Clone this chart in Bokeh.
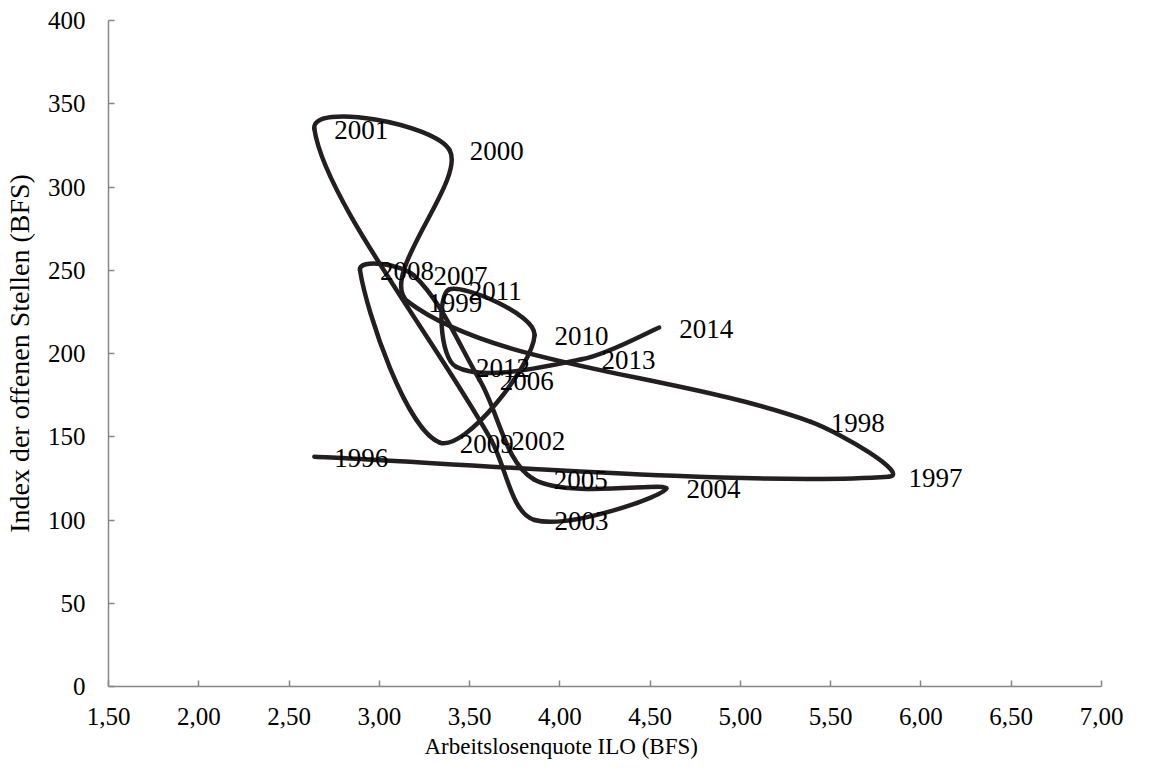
import numpy as np
from bokeh.plotting import figure
from bokeh.models import Range1d, FixedTicker, ColumnDataSource, Title
from bokeh.embed import file_html
from bokeh.resources import INLINE
from bokeh.core.properties import value

# ---- data ----
years = ["1996", "1997", "1998", "1999", "2000", "2001", "2002", "2003", "2004", "2005",
         "2006", "2007", "2008", "2009", "2010", "2011", "2012", "2013", "2014"]
unemployment = [2.64, 5.82, 5.39, 3.16, 3.39, 2.64, 3.62, 3.86, 4.59, 3.855,
                3.556, 3.19, 2.893, 3.335, 3.86, 3.385, 3.425, 4.12, 4.55]
vacancies = [138, 126, 159, 231, 322, 335, 148, 100, 119, 124.5,
             184, 247, 250, 146.5, 211, 238.4, 192, 196.5, 215.6]

x_ticks = [1.5, 2.0, 2.5, 3.0, 3.5, 4.0, 4.5, 5.0, 5.5, 6.0, 6.5, 7.0]
x_tick_labels = ["1,50", "2,00", "2,50", "3,00", "3,50", "4,00", "4,50", "5,00",
                 "5,50", "6,00", "6,50", "7,00"]
y_ticks = [0, 50, 100, 150, 200, 250, 300, 350, 400]
x_title = "Arbeitslosenquote ILO (BFS)"
y_title = "Index der offenen Stellen (BFS)"

# ---- layout ----
W, H = 1153, 776
BL, BR, BT, BB = 106, 52, 20, 90
XMIN, XMAX, YMIN, YMAX = 1.5, 7.0, 0, 400
FONT_NAME = "Liberation Serif"
FONT = value(FONT_NAME)
LINE = "#231f20"
AXIS = "#868686"

p = figure(width=W, height=H, x_range=Range1d(XMIN, XMAX), y_range=Range1d(YMIN, YMAX),
           output_backend="svg", toolbar_location=None,
           min_border_left=BL, min_border_right=BR, min_border_top=BT, min_border_bottom=BB)
p.outline_line_color = None
p.xgrid.visible = False
p.ygrid.visible = False
p.background_fill_color = "white"
p.border_fill_color = "white"

# ---- smoothed line (Excel-like) via bezier segments ----
kx = (W - BL - BR) / (XMAX - XMIN)
ky = (H - BT - BB) / (YMAX - YMIN)
P = np.column_stack([np.array(unemployment) * kx, np.array(vacancies) * ky])
n = len(P)
T = np.zeros_like(P)
for i in range(n):
    a = max(i - 1, 0)
    b = min(i + 1, n - 1)
    T[i] = P[b] - P[a]
d = np.linalg.norm(P[1:] - P[:-1], axis=1)

x0, y0, x1, y1, cx0, cy0, cx1, cy1 = ([] for _ in range(8))
for i in range(n - 1):
    d_in = d[i - 1] if i > 0 else d[i]
    d_next = d[i + 1] if i + 1 < n - 1 else d[i]
    s_out = d[i] / (d_in + d[i]) / 3.0
    s_in = d[i] / (d[i] + d_next) / 3.0
    c1 = P[i] + T[i] * s_out
    c2 = P[i + 1] - T[i + 1] * s_in
    x0.append(unemployment[i]); y0.append(vacancies[i])
    x1.append(unemployment[i + 1]); y1.append(vacancies[i + 1])
    cx0.append(c1[0] / kx); cy0.append(c1[1] / ky)
    cx1.append(c2[0] / kx); cy1.append(c2[1] / ky)

seg = ColumnDataSource(dict(x0=x0, y0=y0, x1=x1, y1=y1, cx0=cx0, cy0=cy0, cx1=cx1, cy1=cy1))
p.bezier(x0="x0", y0="y0", x1="x1", y1="y1", cx0="cx0", cy0="cy0", cx1="cx1", cy1="cy1",
         source=seg, line_color=LINE, line_width=4.5, line_cap="round")

# ---- year labels ----
lab = ColumnDataSource(dict(x=unemployment, y=vacancies, t=years))
p.text(x="x", y="y", text="t", source=lab, x_offset=20, y_offset=1,
       text_align="left", text_baseline="middle", text_color="black",
       text_font=FONT, text_font_size="27px")

# ---- axes ----
p.xaxis.ticker = FixedTicker(ticks=x_ticks)
p.xaxis.major_label_overrides = {t: l for t, l in zip(x_ticks, x_tick_labels)}
p.yaxis.ticker = FixedTicker(ticks=y_ticks)
for ax in (p.xaxis, p.yaxis):
    ax.axis_line_color = AXIS
    ax.axis_line_width = 1.5
    ax.major_tick_line_color = AXIS
    ax.major_tick_line_width = 1.5
    ax.major_tick_in = 6
    ax.major_tick_out = 0
    ax.minor_tick_line_color = None
    ax.major_label_text_font = FONT_NAME
    ax.major_label_text_font_size = "25px"
    ax.major_label_text_color = "black"
    ax.axis_label_text_font = FONT_NAME
    ax.axis_label_text_font_style = "normal"
    ax.axis_label_text_color = "black"
p.yaxis.axis_label = y_title
p.yaxis.axis_label_text_font_size = "28px"
p.xaxis.major_label_standoff = 21
p.yaxis.major_label_standoff = 23
p.yaxis.axis_label_standoff = 10

# x-axis title: in the reference it sits under 4,00, left of the frame centre
p.add_layout(Title(text=x_title, align="left", offset=316, standoff=12,
                   vertical_align="top", text_font=FONT_NAME, text_font_size="23px",
                   text_font_style="normal", text_color="black"), "below")

open("out.html", "w").write(file_html(p, INLINE))
